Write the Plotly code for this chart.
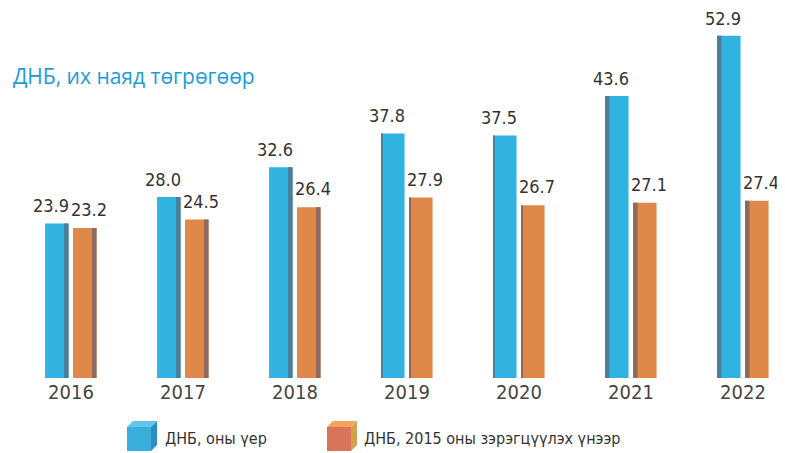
import plotly.graph_objects as go

years = ["2016", "2017", "2018", "2019", "2020", "2021", "2022"]
gdp_current = [23.9, 28.0, 32.6, 37.8, 37.5, 43.6, 52.9]
gdp_2015 = [23.2, 24.5, 26.4, 27.9, 26.7, 27.1, 27.4]

series_names = ["ДНБ, оны үер", "ДНБ, 2015 оны зэрэгцүүлэх үнээр"]
title_text = "ДНБ, их наяд төгрөгөөр"

NARROW = "DejaVu Sans Condensed, Liberation Sans Narrow, sans-serif"
BLUE = "#30b3e1"
BLUE_SIDE = "#4d7d98"
ORANGE = "#e0874a"
ORANGE_SIDE = "#8c6a5c"

# page body has an 8px margin; size the figure so it ends at the window edge
PAGE_OFF = 8
W, H = 785 - PAGE_OFF, 453 - PAGE_OFF
ML, MR, MT, MB = 7, 0, 22, 75
x = list(range(len(years)))

BW = 0.21
B_OFF = -0.232
O_OFF = 0.018
SW = 0.04


def strip_offsets(base_off):
    return [base_off + BW - SW if i < 3 else base_off for i in x]


def strip_widths():
    return [SW if i not in (3, 4) else 0.012 for i in x]


fig = go.Figure()
fig.add_trace(go.Bar(
    x=x, y=gdp_current, name=series_names[0], offset=B_OFF, width=BW,
    marker=dict(color=BLUE, line=dict(width=0)), showlegend=False,
))
fig.add_trace(go.Bar(
    x=x, y=gdp_current, offset=strip_offsets(B_OFF), width=strip_widths(),
    marker=dict(color=BLUE_SIDE, line=dict(width=0)), showlegend=False,
    hoverinfo="skip",
))
fig.add_trace(go.Bar(
    x=x, y=gdp_2015, name=series_names[1], offset=O_OFF, width=BW,
    marker=dict(color=ORANGE, line=dict(width=0)), showlegend=False,
))
fig.add_trace(go.Bar(
    x=x, y=gdp_2015, offset=strip_offsets(O_OFF), width=strip_widths(),
    marker=dict(color=ORANGE_SIDE, line=dict(width=0)), showlegend=False,
    hoverinfo="skip",
))

PW = W - ML - MR
PH = H - MT - MB


def px(xs):
    return (xs - PAGE_OFF - ML) / PW


def py(ys):
    return (H - MB - (ys - PAGE_OFF)) / PH


def cube(x0, y0, size, depth, front, top, side):
    shapes = []
    f = [(x0, y0 + depth), (x0 + size, y0 + depth), (x0 + size, y0 + depth + size), (x0, y0 + depth + size)]
    t = [(x0, y0 + depth), (x0 + depth, y0), (x0 + size + depth, y0), (x0 + size, y0 + depth)]
    s = [(x0 + size, y0 + depth), (x0 + size + depth, y0), (x0 + size + depth, y0 + size), (x0 + size, y0 + depth + size)]
    for pts, col in ((f, front), (t, top), (s, side)):
        path = "M " + " L ".join(f"{px(a):.5f},{py(b):.5f}" for a, b in pts) + " Z"
        shapes.append(dict(type="path", xref="paper", yref="paper", path=path,
                           fillcolor=col, line=dict(width=0), layer="above"))
    return shapes


shapes = []
shapes += cube(127, 421, 24, 6, "#3aaedc", "#62c6ec", "#2d8fbd")
shapes += cube(327, 421, 24, 6, "#d7745a", "#f3a35a", "#cfa24c")

annotations = [
    dict(text=title_text, xref="paper", yref="paper", x=px(11), y=py(76),
         xanchor="left", yanchor="middle", showarrow=False,
         font=dict(family="Open Sans, sans-serif", size=21, color="#1a9cd8")),
    dict(text=series_names[0], xref="paper", yref="paper", x=px(163), y=py(438),
         xanchor="left", yanchor="middle", showarrow=False,
         font=dict(family=NARROW, size=16, color="#333333")),
    dict(text=series_names[1], xref="paper", yref="paper", x=px(362), y=py(438),
         xanchor="left", yanchor="middle", showarrow=False,
         font=dict(family=NARROW, size=16, color="#333333")),
]

# value labels above bars, positioned by data values
for i in x:
    annotations.append(dict(x=i + B_OFF + BW / 2, y=gdp_current[i], xref="x", yref="y",
                            text=f"{gdp_current[i]:.1f}", showarrow=False,
                            yanchor="bottom", yshift=5, xshift=-6,
                            font=dict(family=NARROW, size=18, color="#333333")))
    annotations.append(dict(x=i + O_OFF + BW / 2, y=gdp_2015[i], xref="x", yref="y",
                            text=f"{gdp_2015[i]:.1f}", showarrow=False,
                            yanchor="bottom", yshift=6, xshift=4,
                            font=dict(family=NARROW, size=18, color="#333333")))

fig.update_layout(
    width=W, height=H, margin=dict(l=ML, r=MR, t=MT, b=MB, autoexpand=False),
    paper_bgcolor="white", plot_bgcolor="white",
    barmode="overlay", showlegend=False,
    xaxis=dict(range=[-0.5, 6.375], tickvals=x, ticktext=years, showgrid=False,
               zeroline=False, showline=False, ticks="", automargin=False,
               tickfont=dict(family=NARROW, size=20, color="#444444")),
    yaxis=dict(range=[0, 53.8], visible=False, showgrid=False, zeroline=False,
               automargin=False),
    shapes=shapes, annotations=annotations,
)

fig.write_html("out.html")
